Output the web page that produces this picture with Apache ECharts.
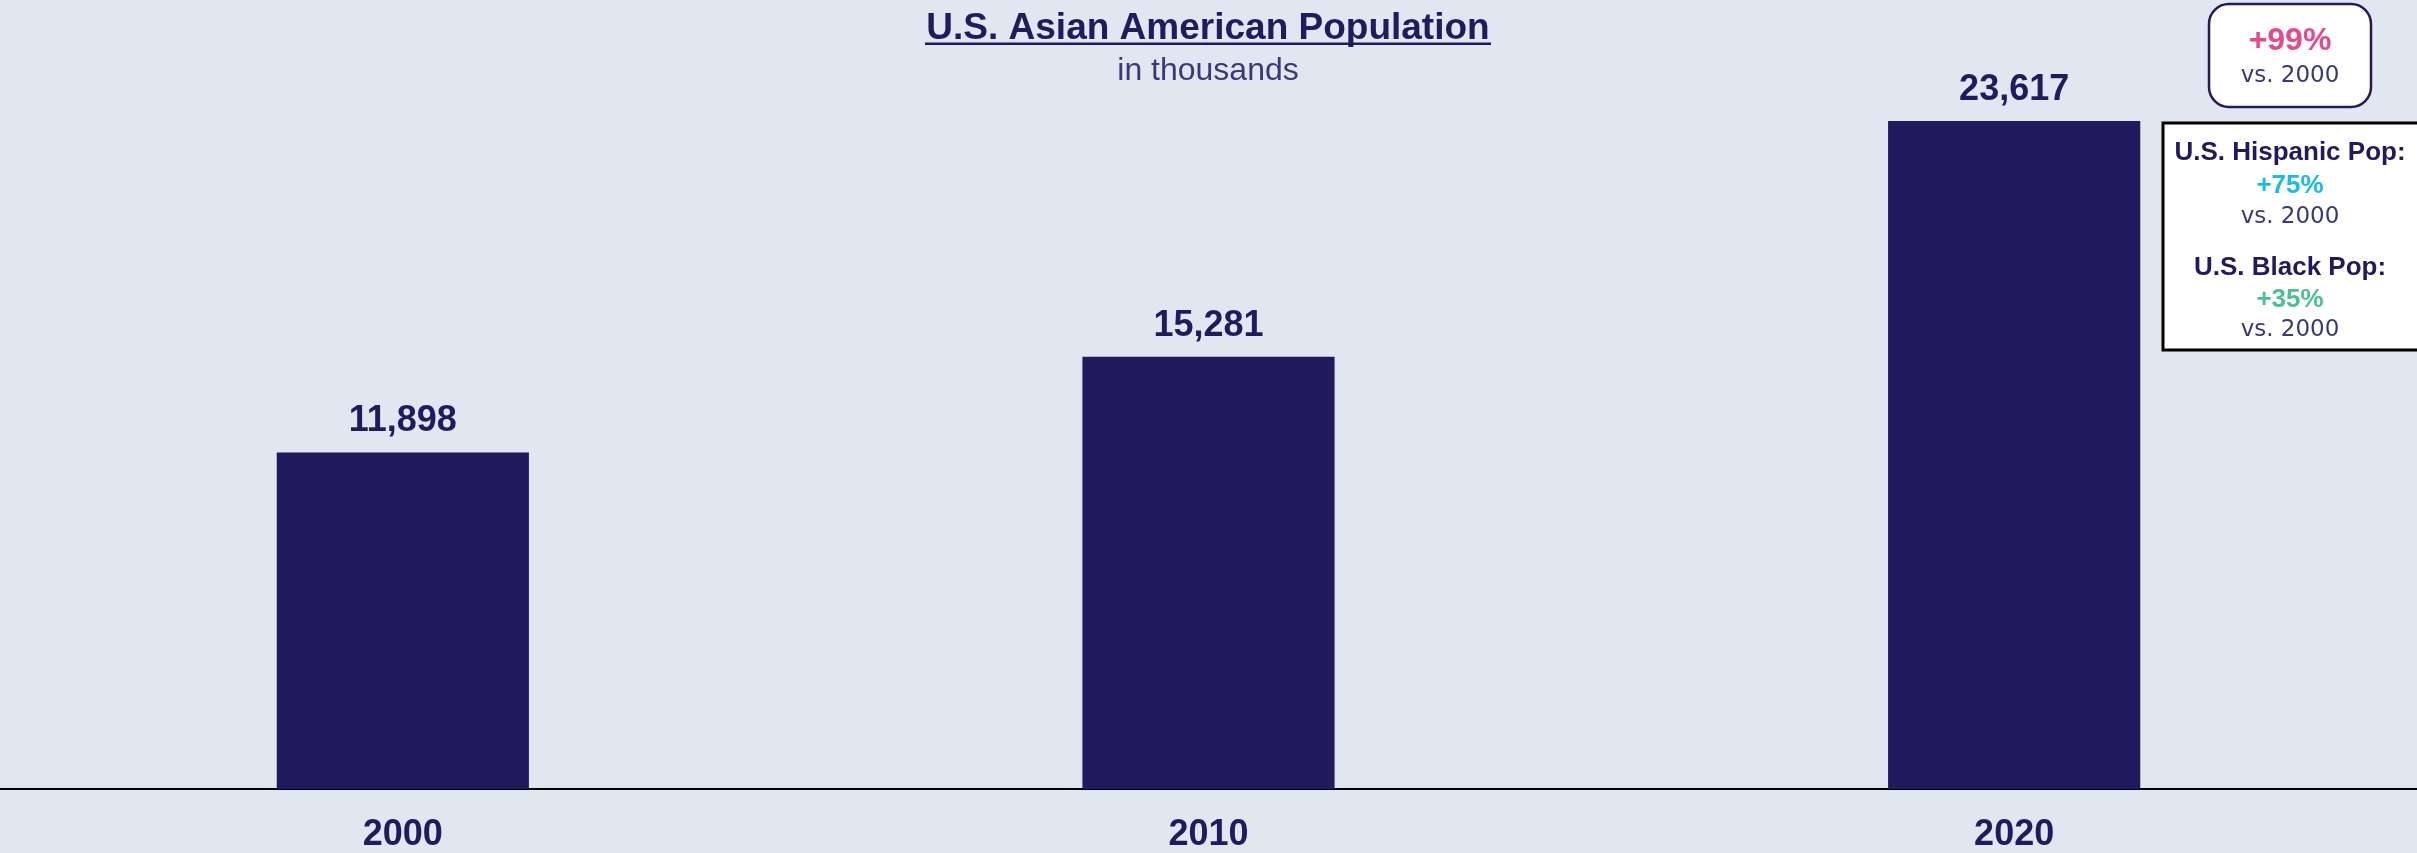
<!DOCTYPE html>
<html>
<head>
<meta charset="utf-8">
<style>
  html, body { margin: 0; padding: 0; background: #e1e7f1; }
  #chart { width: 2417px; height: 853px; }
</style>
<script src="https://cdn.jsdelivr.net/npm/echarts@6/dist/echarts.min.js"></script>
</head>
<body>
<div id="chart"></div>
<script>
  var years = ['2000', '2010', '2020'];
  var asianPop = [11898, 15281, 23617];
  var asianGrowth = '+99%';
  var hispanicGrowth = '+75%';
  var blackGrowth = '+35%';

  var navy = '#211a5e';
  var soft = '#3b3878';
  var arial = '"Liberation Sans", Arial, sans-serif';
  var light = '"DejaVu Sans", sans-serif';

  // centered annotation text
  function txt(text, x, y, size, weight, family, color) {
    return {
      type: 'text',
      x: x, y: y,
      style: {
        text: text, x: 0, y: 0,
        textAlign: 'center', textVerticalAlign: 'middle',
        fontSize: size, fontWeight: weight, fontFamily: family,
        fill: color
      }
    };
  }

  var chart = echarts.init(document.getElementById('chart'));

  var option = {
    backgroundColor: '#e1e7f1',
    grid: { left: 0, right: 0, top: 82, bottom: 64 },
    xAxis: {
      type: 'category',
      data: years,
      axisLine: { lineStyle: { color: '#000', width: 2 } },
      axisTick: { show: false },
      axisLabel: {
        color: navy,
        fontSize: 36,
        fontWeight: 'bold',
        fontFamily: arial,
        margin: 28
      }
    },
    yAxis: {
      type: 'value',
      min: 0,
      max: 25000,
      show: false,
      splitLine: { show: false }
    },
    series: [{
      type: 'bar',
      data: asianPop,
      barWidth: '31.3%',
      itemStyle: { color: navy },
      label: {
        show: true,
        position: 'top',
        distance: 13,
        color: navy,
        fontSize: 36,
        fontWeight: 'bold',
        fontFamily: arial,
        formatter: function (p) { return p.value.toLocaleString('en-US'); }
      }
    }],
    graphic: [
      txt('U.S. Asian American Population', 1208, 29, 37, 'bold', arial, navy),
      {
        type: 'rect',
        shape: { x: 925, y: 42.5, width: 566, height: 2.5 },
        style: { fill: navy }
      },
      txt('in thousands', 1208, 71, 32, 'normal', arial, soft),
      // +99% box
      {
        type: 'rect',
        shape: { x: 2209, y: 4, width: 162, height: 103, r: 20 },
        style: { fill: '#fff', stroke: navy, lineWidth: 2.5 }
      },
      txt(asianGrowth, 2290, 41, 32, 'bold', arial, '#e8488f'),
      txt('vs. 2000', 2290, 76, 23, 'normal', light, soft),
      // comparison box
      {
        type: 'rect',
        shape: { x: 2163, y: 123, width: 270, height: 227 },
        style: { fill: '#fff', stroke: '#000', lineWidth: 3 }
      },
      txt('U.S. Hispanic Pop:', 2290, 153, 26, 'bold', arial, navy),
      txt(hispanicGrowth, 2290, 186, 26, 'bold', arial, '#17bce8'),
      txt('vs. 2000', 2290, 217, 23, 'normal', light, soft),
      txt('U.S. Black Pop:', 2290, 268, 26, 'bold', arial, navy),
      txt(blackGrowth, 2290, 300, 26, 'bold', arial, '#4cbf98'),
      txt('vs. 2000', 2290, 330, 23, 'normal', light, soft)
    ]
  };

  chart.setOption(option);
  window.addEventListener('resize', function () { chart.resize(); });
</script>
</body>
</html>
